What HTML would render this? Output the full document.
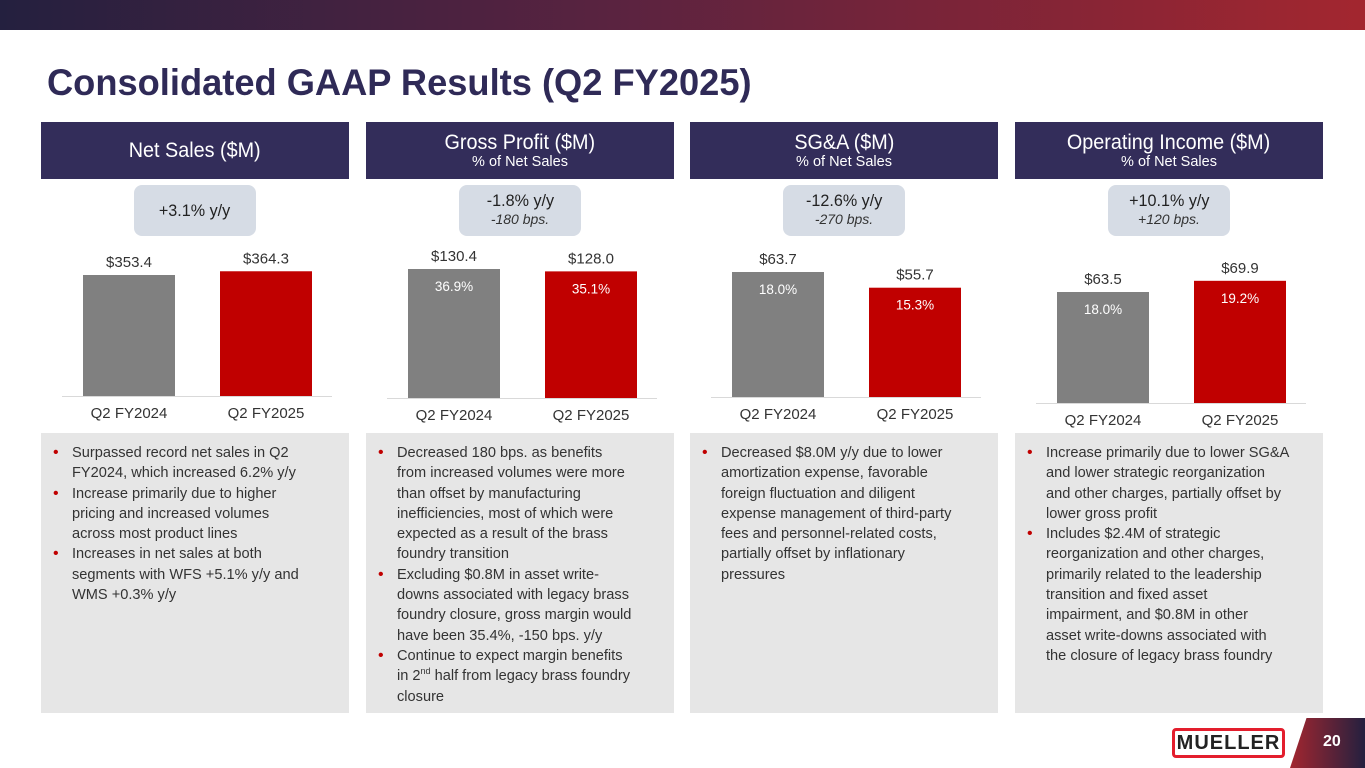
<!DOCTYPE html>
<html><head><meta charset="utf-8">
<style>
*{margin:0;padding:0;box-sizing:border-box}
body{width:1365px;height:768px;position:relative;background:#fff;font-family:"Liberation Sans",sans-serif;overflow:hidden}
.topbar{position:absolute;left:0;top:0;width:1365px;height:30px;background:linear-gradient(90deg,#24203f,#5a2340 45%,#a3262f)}
h1{position:absolute;left:47px;top:62px;font-weight:bold;font-size:37px;color:#2f2a57;transform:scaleX(0.98);transform-origin:left top;white-space:nowrap}
.hdr{position:absolute;top:122px;width:308px;height:57px;background:#332d5a;color:#fff;text-align:center}
.hdr .t{font-size:21.5px;line-height:23px;display:inline-block;transform:scaleX(0.92)}
.hdr .s{font-size:14.5px;line-height:17px}
.pill{position:absolute;top:185px;width:122px;height:51px;background:#d6dce5;border-radius:8px;text-align:center;color:#222}
.pill .a{font-size:17px;display:inline-block;transform:scaleX(0.95)}
.pill .b{font-size:14px;font-style:italic;color:#333}
.box{position:absolute;top:433px;width:308px;height:280px;background:#e6e6e6;padding:10px 42px 0 12px;font-size:14.6px;line-height:20.3px;color:#333}
.box li{list-style:none;position:relative;padding-left:19px}
.box li:before{content:"•";position:absolute;left:0;color:#c00000;font-size:16px}
sup{font-size:9px;line-height:0}
svg{position:absolute;left:0;top:0}
.logo{position:absolute;left:1172px;top:728px;width:113px;height:30px;border:3px solid #e31e2d;border-radius:4px;font-weight:bold;font-size:20px;color:#222;text-align:center;line-height:24px;letter-spacing:1px}
.pg{position:absolute;left:1290px;top:718px;width:75px;height:50px;background:linear-gradient(90deg,#a3262f,#24203f);clip-path:polygon(22% 0,100% 0,100% 100%,0 100%)}
.pgn{position:absolute;left:1323px;top:733px;color:#fff;font-weight:bold;font-size:16px}
</style></head><body>
<div class="topbar"></div>
<h1>Consolidated GAAP Results (Q2 FY2025)</h1>

<div class="hdr" style="left:41px"><div class="t" style="line-height:57px">Net Sales ($M)</div></div>
<div class="hdr" style="left:366px;padding-top:9px"><div class="t">Gross Profit ($M)</div><div class="s">% of Net Sales</div></div>
<div class="hdr" style="left:690px;padding-top:9px"><div class="t">SG&amp;A ($M)</div><div class="s">% of Net Sales</div></div>
<div class="hdr" style="left:1015px;padding-top:9px"><div class="t">Operating Income ($M)</div><div class="s">% of Net Sales</div></div>

<div class="pill" style="left:134px;line-height:51px"><div class="a">+3.1% y/y</div></div>
<div class="pill" style="left:459px;padding-top:6px"><div class="a">-1.8% y/y</div><div class="b">-180 bps.</div></div>
<div class="pill" style="left:783px;padding-top:6px"><div class="a">-12.6% y/y</div><div class="b">-270 bps.</div></div>
<div class="pill" style="left:1108px;padding-top:6px"><div class="a">+10.1% y/y</div><div class="b">+120 bps.</div></div>

<svg id="charts" width="1365" height="768"></svg>

<div class="box" style="left:41px"><ul>
<li>Surpassed record net sales in Q2 FY2024, which increased 6.2% y/y</li>
<li>Increase primarily due to higher pricing and increased volumes across most product lines</li>
<li>Increases in net sales at both segments with WFS +5.1% y/y and WMS +0.3% y/y</li></ul></div>
<div class="box" style="left:366px"><ul>
<li>Decreased 180 bps. as benefits from increased volumes were more than offset by manufacturing inefficiencies, most of which were expected as a result of the brass foundry transition</li>
<li>Excluding $0.8M in asset write-downs associated with legacy brass foundry closure, gross margin would have been 35.4%, -150 bps. y/y</li>
<li>Continue to expect margin benefits in 2<sup>nd</sup> half from legacy brass foundry closure</li></ul></div>
<div class="box" style="left:690px"><ul>
<li>Decreased $8.0M y/y due to lower amortization expense, favorable foreign fluctuation and diligent expense management of third-party fees and personnel-related costs, partially offset by inflationary pressures</li></ul></div>
<div class="box" style="left:1015px;padding-right:20px"><ul>
<li>Increase primarily due to lower SG&amp;A<br>and lower strategic reorganization<br>and other charges, partially offset by<br>lower gross profit</li>
<li>Includes $2.4M of strategic<br>reorganization and other charges,<br>primarily related to the leadership<br>transition and fixed asset<br>impairment, and $0.8M in other<br>asset write-downs associated with<br>the closure of legacy brass foundry</li></ul></div>

<div class="logo">MUELLER</div>
<div class="pg"></div>
<div class="pgn">20</div>

<script>
const categories = ["Q2 FY2024", "Q2 FY2025"];
const netSalesValues = [353.4, 364.3];
const grossProfitValues = [130.4, 128.0];
const grossProfitPct = ["36.9%", "35.1%"];
const sgaValues = [63.7, 55.7];
const sgaPct = ["18.0%", "15.3%"];
const opIncomeValues = [63.5, 69.9];
const opIncomePct = ["18.0%", "19.2%"];

const panels = [
  {name:"net-sales", left:41, base:396, scale:121/353.4, vals:netSalesValues, pct:null},
  {name:"gross-profit", left:366, base:398, scale:129/130.4, vals:grossProfitValues, pct:grossProfitPct},
  {name:"sga", left:690, base:397, scale:125/63.7, vals:sgaValues, pct:sgaPct},
  {name:"operating-income", left:1015, base:403, scale:111/63.5, vals:opIncomeValues, pct:opIncomePct}
];
const NS="http://www.w3.org/2000/svg";
const svg=document.getElementById("charts");
function mk(tag,attrs,txt){const e=document.createElementNS(NS,tag);for(const k in attrs)e.setAttribute(k,attrs[k]);if(txt!==undefined)e.textContent=txt;svg.appendChild(e);return e;}
const colors=["#808080","#c00000"];
panels.forEach(p=>{
  const x=i=>p.left+42+i*137;
  const y=v=>p.base-v*p.scale;
  const ax=mk("line",{x1:p.left+21,x2:p.left+291,y1:p.base+0.5,y2:p.base+0.5,stroke:"#d9d9d9","stroke-width":1});
  
  
  p.vals.forEach((v,i)=>{
    const r=mk("rect",{x:x(i),y:y(v),width:92,height:p.base-y(v),fill:colors[i]});
    
    
    const t=mk("text",{x:x(i)+46,y:y(v)-8,"text-anchor":"middle","font-size":15,fill:"#333","font-family":"Liberation Sans, sans-serif"},"$"+v.toFixed(1));
    
    
    if(p.pct){
      const q=mk("text",{x:x(i)+46,y:y(v)+22,"text-anchor":"middle","font-size":13.5,fill:"#fff","font-family":"Liberation Sans, sans-serif"},p.pct[i]);
      
      
    }
    const c=mk("text",{x:x(i)+46,y:p.base+22,"text-anchor":"middle","font-size":15,fill:"#333","font-family":"Liberation Sans, sans-serif"},categories[i]);
    
    
  });
});
</script>
</body></html>
